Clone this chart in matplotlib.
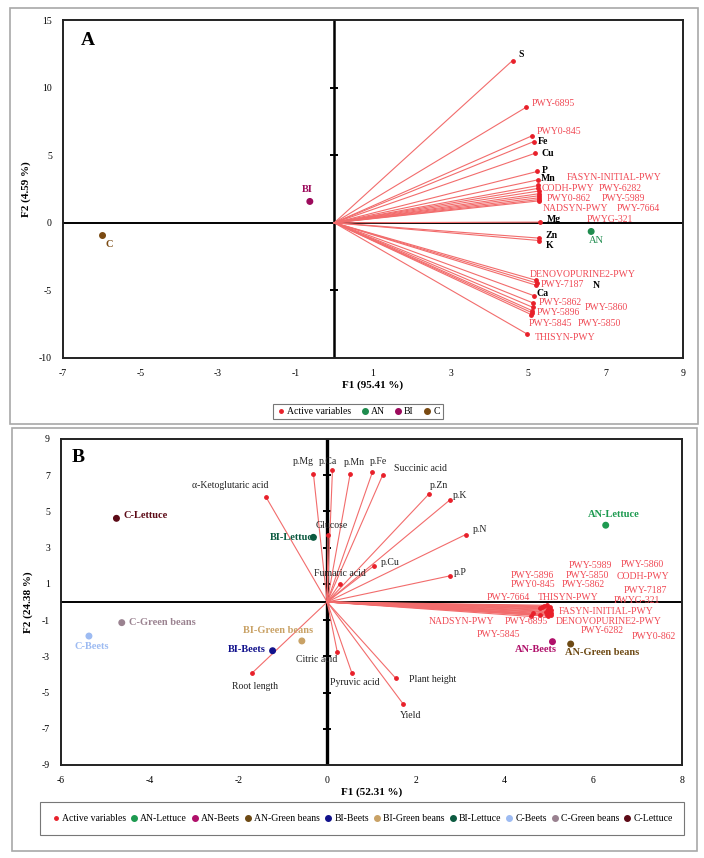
import matplotlib
matplotlib.use("Agg")
from matplotlib import pyplot as plt
from matplotlib.patches import Rectangle
from matplotlib.lines import Line2D
import numpy as np

plt.rcParams['font.family'] = ['Liberation Serif', 'DejaVu Serif']
plt.rcParams['axes.unicode_minus'] = False

# ---------------- Panel A data ----------------
a_var_names = ["S", "PWY-6895", "PWY0-845", "Fe", "Cu", "P", "Mn",
               "CODH-PWY", "FASYN-INITIAL-PWY", "PWY-6282", "PWY0-862", "PWY-5989",
               "NADSYN-PWY", "PWY-7664", "PWYG-321", "Mg", "Zn", "K",
               "DENOVOPURINE2-PWY", "PWY-7187", "N", "Ca", "PWY-5862", "PWY-5860",
               "PWY-5845", "PWY-5850", "PWY-5896", "THISYN-PWY"]
a_var_x = [4.60, 4.96, 5.10, 5.15, 5.19, 5.24, 5.26,
           5.27, 5.27, 5.28, 5.28, 5.28,
           5.28, 5.28, 5.28, 5.30, 5.28, 5.28,
           5.21, 5.22, 5.21, 5.16, 5.14, 5.13,
           5.11, 5.10, 5.09, 4.98]
a_var_y = [12.0, 8.56, 6.43, 6.01, 5.15, 3.80, 3.18,
           2.76, 2.55, 2.35, 2.15, 2.00,
           1.85, 1.72, 1.62, 0.05, -1.13, -1.31,
           -4.25, -4.45, -4.62, -5.40, -5.94, -6.26,
           -6.50, -6.65, -6.80, -8.23]

a_obs_names = ["AN", "BI", "C"]
a_obs_x = [6.63, -0.63, -5.98]
a_obs_y = [-0.64, 1.58, -0.94]
a_obs_colors = ["#1f8c4e", "#9c0a5c", "#7a4a12"]

# label anchor points (left edge, vertical centre) for panel A
a_label_pos = {
    "S": (4.76, 12.43), "PWY-6895": (5.09, 8.80), "PWY0-845": (5.22, 6.75),
    "Fe": (5.25, 5.99), "Cu": (5.35, 5.10), "P": (5.35, 3.87), "Mn": (5.33, 3.25),
    "FASYN-INITIAL-PWY": (6.00, 3.33), "CODH-PWY": (5.34, 2.57), "PWY-6282": (6.83, 2.57),
    "PWY0-862": (5.47, 1.78), "PWY-5989": (6.89, 1.78), "NADSYN-PWY": (5.39, 1.04),
    "PWY-7664": (7.30, 1.04), "Mg": (5.49, 0.27), "PWYG-321": (6.52, 0.27),
    "Zn": (5.46, -0.94), "K": (5.46, -1.68), "DENOVOPURINE2-PWY": (5.04, -3.85),
    "PWY-7187": (5.34, -4.54), "N": (6.66, -4.66), "Ca": (5.23, -5.20),
    "PWY-5862": (5.27, -5.89), "PWY-5860": (6.46, -6.24), "PWY-5896": (5.22, -6.61),
    "PWY-5845": (5.02, -7.42), "PWY-5850": (6.29, -7.42), "THISYN-PWY": (5.17, -8.48),
}
a_obs_label_pos = {"AN": (6.76, -1.31), "BI": (-0.70, 2.45), "C": (-5.80, -1.60)}

# ---------------- Panel B data ----------------
b_var_names = ["p.Mg", "p.Ca", "p.Mn", "p.Fe", "Succinic acid", "p.Zn", "p.K", "p.N",
               "p.P", "p.Cu", "Glucose", "Fumaric acid", "α-Ketoglutaric acid",
               "Citric acid", "Pyruvic acid", "Plant height", "Yield", "Root length",
               "PWY-5989", "PWY-5860", "PWY-5896", "PWY-5850", "CODH-PWY", "PWY0-845",
               "PWY-5862", "PWY-7187", "PWY-7664", "THISYN-PWY", "PWYG-321",
               "FASYN-INITIAL-PWY", "NADSYN-PWY", "PWY-6895", "DENOVOPURINE2-PWY",
               "PWY-6282", "PWY0-862", "PWY-5845"]
b_var_x = [-0.31, 0.12, 0.52, 1.02, 1.25, 2.29, 2.76, 3.12,
           2.78, 1.05, 0.02, 0.28, -1.38,
           0.23, 0.56, 1.55, 1.72, -1.70,
           4.95, 5.02, 4.90, 4.98, 5.04, 4.85,
           4.97, 5.03, 4.80, 4.93, 5.05,
           5.00, 4.60, 4.80, 4.98,
           4.95, 5.04, 4.65]
b_var_y = [7.09, 7.29, 7.09, 7.17, 7.00, 5.95, 5.62, 3.72,
           1.45, 1.99, 3.70, 0.99, 5.80,
           -2.78, -3.94, -4.22, -5.65, -3.94,
           -0.18, -0.30, -0.22, -0.38, -0.42, -0.26,
           -0.46, -0.52, -0.32, -0.55, -0.60,
           -0.66, -0.80, -0.74, -0.78,
           -0.70, -0.72, -0.62]

b_obs_names = ["AN-Lettuce", "AN-Beets", "AN-Green beans", "BI-Beets", "BI-Green beans",
               "BI-Lettuce", "C-Beets", "C-Green beans", "C-Lettuce"]
b_obs_x = [6.28, 5.08, 5.49, -1.23, -0.57, -0.31, -5.37, -4.63, -4.75]
b_obs_y = [4.24, -2.19, -2.32, -2.69, -2.15, 3.57, -1.88, -1.14, 4.62]
b_obs_colors = ["#1d9a50", "#b0106a", "#6e4a14", "#12128c", "#c9a266",
                "#0c5a40", "#9dbbf2", "#9a8290", "#5c0a16"]

# label centres for panel B
b_label_pos = {
    "p.Mg": (-0.53, 7.75), "p.Ca": (0.02, 7.75), "p.Mn": (0.61, 7.70), "p.Fe": (1.16, 7.75),
    "Succinic acid": (2.10, 7.39), "p.Zn": (2.53, 6.46), "p.K": (3.00, 5.87),
    "p.N": (3.44, 3.98), "p.P": (3.00, 1.62), "p.Cu": (1.42, 2.19), "Glucose": (0.11, 4.20),
    "Fumaric acid": (0.28, 1.55), "α-Ketoglutaric acid": (-2.19, 6.46),
    "Citric acid": (-0.23, -3.20), "Pyruvic acid": (0.62, -4.44),
    "Plant height": (2.37, -4.27), "Yield": (1.87, -6.24), "Root length": (-1.63, -4.64),
    "PWY-5989": (5.94, 2.04), "PWY-5860": (7.11, 2.06), "PWY-5896": (4.63, 1.49),
    "PWY-5850": (5.87, 1.49), "CODH-PWY": (7.13, 1.42), "PWY0-845": (4.63, 0.94),
    "PWY-5862": (5.78, 0.94), "PWY-7187": (7.18, 0.66), "PWY-7664": (4.09, 0.26),
    "THISYN-PWY": (5.44, 0.26), "PWYG-321": (6.98, 0.11),
    "FASYN-INITIAL-PWY": (6.28, -0.50), "NADSYN-PWY": (3.02, -1.05),
    "PWY-6895": (4.49, -1.10), "DENOVOPURINE2-PWY": (6.34, -1.10),
    "PWY-6282": (6.21, -1.60), "PWY0-862": (7.36, -1.88), "PWY-5845": (3.86, -1.77),
}
b_obs_label_pos = {
    "AN-Lettuce": (6.46, 4.81), "AN-Beets": (4.70, -2.61), "AN-Green beans": (6.20, -2.80),
    "BI-Beets": (-1.81, -2.61), "BI-Green beans": (-1.10, -1.60), "BI-Lettuce": (-0.76, 3.55),
    "C-Beets": (-5.31, -2.47), "C-Green beans": (-3.72, -1.14), "C-Lettuce": (-4.09, 4.77),
}

LINE_RED = "#f26c6c"
DOT_RED = "#e8202a"
TEXT_RED = "#f04a55"


def base_axes(ax, xlim, ylim, xticks, yticks, xlabel, ylabel, zero_ticks, vlw):
    ax.set_xlim(*xlim)
    ax.set_ylim(*ylim)
    ax.set_xticks(xticks)
    ax.set_yticks(yticks)
    ax.tick_params(length=0, labelsize=7, pad=8)
    for s in ax.spines.values():
        s.set_linewidth(1.4)
        s.set_color("#222222")
    ax.axhline(0, color="black", lw=1.4, zorder=1)
    ax.axvline(0, color="black", lw=vlw, zorder=1)
    ax.plot(np.zeros(len(zero_ticks)), zero_ticks, ls="", marker="_", ms=6, mew=1.4,
            color="black", zorder=1)
    ax.set_xlabel(xlabel, fontsize=8, fontweight="bold", labelpad=2)
    ax.set_ylabel(ylabel, fontsize=8, fontweight="bold", labelpad=6)


fig = plt.figure(figsize=(7.04, 8.58), dpi=100)
W, H = 704.0, 858.0

# outer grey frames
for (x0, y0, x1, y1) in [(10, 8, 698, 424), (12, 428, 697, 851)]:
    fig.add_artist(Rectangle((x0 / W, 1 - y1 / H), (x1 - x0) / W, (y1 - y0) / H,
                             transform=fig.transFigure, fill=False, ec="#a8a8a8", lw=1.2))

# ---------------- Panel A ----------------
axA = fig.add_axes([63 / W, 1 - 358 / H, 620 / W, 338 / H])
base_axes(axA, (-7, 9), (-10, 15), [-7, -5, -3, -1, 1, 3, 5, 7, 9], [-10, -5, 0, 5, 10, 15],
          "F1 (95.41 %)", "F2 (4.59 %)", [-5, 5, 10], 1.8)
for name, x, y in zip(a_var_names, a_var_x, a_var_y):
    axA.plot([0, x], [0, y], color=LINE_RED, lw=0.8, zorder=2)
axA.scatter(a_var_x, a_var_y, s=6, color=DOT_RED, zorder=3)
for name in a_var_names:
    lx, ly = a_label_pos[name]
    if "PWY" in name:
        axA.text(lx, ly, name, fontsize=7, color=TEXT_RED, ha="left", va="center")
    else:
        axA.text(lx, ly, name, fontsize=7, color="black", fontweight="bold",
                 ha="left", va="center")
axA.scatter(a_obs_x, a_obs_y, s=16, color=a_obs_colors, zorder=3)
for name, c in zip(a_obs_names, a_obs_colors):
    lx, ly = a_obs_label_pos[name]
    axA.text(lx, ly, name, fontsize=7.5, color=c, ha="center", va="center",
             fontweight="normal" if name == "AN" else "bold")
axA.text(-6.55, 13.5, "A", fontsize=14, fontweight="bold", ha="left", va="center")

handlesA = [Line2D([], [], ls="", marker="o", ms=2.5, color=DOT_RED, label="Active variables")]
for name, c in zip(a_obs_names, a_obs_colors):
    handlesA.append(Line2D([], [], ls="", marker="o", ms=4, color=c, label=name))
legA = fig.legend(handles=handlesA, loc="center", bbox_to_anchor=(358 / W, 1 - 411.5 / H),
                  ncol=4, fontsize=7, frameon=True, fancybox=False, edgecolor="#555555",
                  handletextpad=0.1, columnspacing=0.9, handlelength=1.0,
                  borderpad=0.35)
legA.get_frame().set_linewidth(0.8)

# ---------------- Panel B ----------------
axB = fig.add_axes([61 / W, 1 - 765 / H, 621 / W, 326 / H])
base_axes(axB, (-6, 8), (-9, 9), [-6, -4, -2, 0, 2, 4, 6, 8], [-9, -7, -5, -3, -1, 1, 3, 5, 7, 9],
          "F1 (52.31 %)", "F2 (24.38 %)", [-7, -5, -3, -1, 1, 3, 5, 7], 2.4)
for name, x, y in zip(b_var_names, b_var_x, b_var_y):
    axB.plot([0, x], [0, y], color=LINE_RED, lw=0.8, zorder=2)
axB.scatter(b_var_x, b_var_y, s=6, color=DOT_RED, zorder=3)
for name in b_var_names:
    lx, ly = b_label_pos[name]
    col = TEXT_RED if "PWY" in name else "#222222"
    axB.text(lx, ly, name, fontsize=7, color=col, ha="center", va="center")
axB.scatter(b_obs_x, b_obs_y, s=16, color=b_obs_colors, zorder=3)
for name, c in zip(b_obs_names, b_obs_colors):
    lx, ly = b_obs_label_pos[name]
    axB.text(lx, ly, name, fontsize=7.5, color=c, ha="center", va="center", fontweight="bold")
axB.text(-5.77, 8.0, "B", fontsize=14, fontweight="bold", ha="left", va="center")

handlesB = [Line2D([], [], ls="", marker="o", ms=2.5, color=DOT_RED, label="Active variables")]
for name, c in zip(b_obs_names, b_obs_colors):
    handlesB.append(Line2D([], [], ls="", marker="o", ms=4, color=c, label=name))
legB = fig.legend(handles=handlesB, loc="center", bbox_to_anchor=(362 / W, 1 - 818.5 / H),
                  ncol=10, fontsize=7, frameon=True, fancybox=False, edgecolor="#555555",
                  handletextpad=0.1, columnspacing=0.35, handlelength=1.0,
                  borderpad=1.2)
legB.get_frame().set_linewidth(0.8)

fig.savefig("out.png", dpi=100)
